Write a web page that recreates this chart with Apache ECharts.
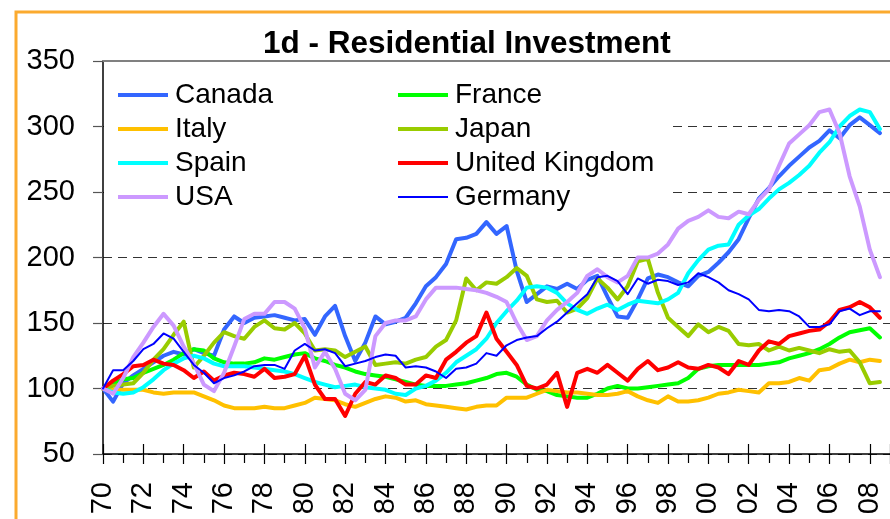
<!DOCTYPE html>
<html>
<head>
<meta charset="utf-8">
<script src="https://cdn.jsdelivr.net/npm/echarts@6/dist/echarts.min.js"></script>
<style>
html,body{margin:0;padding:0;background:#fff;}
#chart{width:890px;height:519px;}
</style>
</head>
<body>
<div id="chart"></div>
<script>
// Half-yearly observations, 1970H1 .. 2008H2 (index 1970 = 100)
const startYear = 1970;
const stepYears = 0.5;
const yTicks = [50, 100, 150, 200, 250, 300, 350];

const canada = [
  100, 90, 104, 110, 115, 120, 125, 128, 126, 130,
  127, 125, 145, 155, 150, 154, 155, 156, 154, 152,
  153, 141, 155, 163, 140, 121, 135, 155, 149, 151,
  154, 165, 178, 185, 195, 214, 215, 218, 227, 218,
  224, 190, 166, 172, 178, 176, 180, 176, 183, 186,
  170, 155, 154, 168, 184, 187, 185, 181, 178, 186,
  189, 196, 204, 214, 230, 245, 253, 262, 270, 277,
  284, 289, 297, 291, 301, 307, 301, 295
];
const france = [
  100, 104, 107, 108, 112, 115, 118, 122, 127, 130,
  129, 123, 120, 119, 119, 120, 123, 122, 124, 126,
  127, 123, 121, 118, 116, 113, 111, 110, 109, 107,
  105, 103, 102, 102, 102, 103, 104, 106, 108, 111,
  112, 109, 103, 99, 98, 95, 94, 93, 93, 96,
  100, 102, 100, 100, 101, 102, 103, 104, 108, 115,
  117, 118, 118, 118, 118, 118, 119, 120, 123, 125,
  127, 130, 134, 139, 143, 144.5, 146, 139
];
const italy = [
  100, 99, 99, 99, 99, 97, 96, 97, 97, 97,
  94, 91, 87, 85, 85, 85, 86, 85, 85, 87,
  89, 93, 92, 91, 88, 86, 89, 92, 94, 93,
  90, 91, 88, 87, 86, 85, 84, 86, 87, 87,
  93, 93, 93, 96, 99, 98, 97, 97, 96, 95,
  95, 96, 98, 94, 91, 89, 94, 90, 90, 91,
  93, 96, 97, 99, 98, 97, 104, 104, 105, 108,
  106, 114, 115, 119, 122, 120, 122, 121
];
const japan = [
  100, 102, 103, 104, 112, 122, 130, 141, 151, 116,
  125, 135, 143, 140, 138, 147, 152, 146, 145, 150,
  142, 129, 130, 129, 124, 128, 132, 118, 119, 120,
  119, 122, 124, 132, 137, 152, 184, 175, 181, 180,
  185, 192, 186, 168, 166, 167, 158, 161, 169, 184,
  177, 168, 178, 197, 199, 173, 154, 147, 140, 149,
  143, 147, 144, 134, 133, 134, 129, 132, 129, 131,
  129, 127, 130, 128, 129, 120, 104, 105
];
const spain = [
  100, 97, 96, 97, 101, 107, 114, 119, 123, 125,
  123, 119, 117, 117, 117, 116, 115, 114, 113, 111,
  108, 105, 103, 101, 102, 103, 101, 100, 99, 96,
  95, 100, 102, 106, 112, 120, 125, 130, 138, 150,
  159, 167, 177, 178, 177, 173, 165, 160, 157, 161,
  164, 160, 164, 167, 166, 165, 168, 173, 188, 198,
  206, 209, 210, 225, 232, 237, 245, 252, 257, 263,
  270, 280, 288, 300, 308, 313, 311, 298
];
const uk = [
  100, 106, 111, 117, 118, 122, 119, 118, 114, 108,
  113, 106, 110, 112, 111, 109, 115, 108, 109, 111,
  125, 103, 92, 92, 79, 96, 105, 103, 110, 108,
  103, 103, 110, 108, 122, 128, 135, 140, 158, 138,
  128, 118, 102, 100, 103, 112, 86, 112, 115, 112,
  118, 112, 106, 115, 121, 114, 116, 120, 116, 115,
  118, 116, 111, 121, 118, 129, 136, 134, 140, 142,
  144, 145, 151, 160, 162, 166, 162, 154
];
const usa = [
  100, 96, 108, 124, 135, 147, 157, 148, 132, 119,
  103, 98, 112, 132, 153, 157, 157, 166, 166, 161,
  146, 116, 128, 115, 96, 91, 99, 140, 150, 152,
  152, 155, 168, 177, 177, 177, 176, 175, 173, 170,
  166, 150, 137, 140, 152, 160, 166, 173, 186, 191,
  185, 181, 186, 200, 200, 203, 210, 222, 228, 231,
  236, 231, 230, 235, 233, 244, 252, 270, 287, 294,
  301, 311, 313, 295, 262, 239, 206, 185
];
const germany = [
  100, 114, 114, 121, 130, 134, 142, 138, 128, 118,
  112, 104, 108, 110, 113, 117, 118, 118, 115, 129,
  134, 129, 130, 127, 117, 119, 121, 124, 126, 125,
  116, 117, 116, 113, 108, 115, 116, 119, 127, 125,
  133, 137, 139, 140, 146, 151, 158, 165, 172, 185,
  186, 182, 172, 184, 180, 183, 182, 179, 181, 188,
  185, 181, 175, 172, 168, 160, 159, 160, 159, 155,
  147, 147, 149, 159, 161, 156, 159, 159
];

const periods = canada.map((_, i) => startYear + i * stepYears);

const seriesDefs = [
  { name: 'Canada', data: canada, color: '#3366FF', width: 4 },
  { name: 'France', data: france, color: '#00FF00', width: 4 },
  { name: 'Italy', data: italy, color: '#FFC000', width: 4 },
  { name: 'Japan', data: japan, color: '#99CC00', width: 4 },
  { name: 'Spain', data: spain, color: '#00FFFF', width: 4 },
  { name: 'United Kingdom', data: uk, color: '#FF0000', width: 4 },
  { name: 'USA', data: usa, color: '#CC99FF', width: 4 },
  { name: 'Germany', data: germany, color: '#0000FF', width: 2 }
];

const FONT = '"Liberation Sans", Arial, sans-serif';
const THICK_ICON = 'path://M0,0 M0,6 M0,1 L50,1 L50,5 L0,5 Z';
const THIN_ICON = 'path://M0,0 M0,6 M0,2 L50,2 L50,4 L0,4 Z';
const chart = echarts.init(document.getElementById('chart'), null, { renderer: 'canvas' });

function legendItems(names) {
  return names.map(n => ({ name: n, icon: n === 'Germany' ? THIN_ICON : THICK_ICON }));
}

const legendCommon = {
  orient: 'vertical',
  padding: 0,
  itemGap: 4,
  itemWidth: 50,
  itemHeight: 6,
  textStyle: { fontFamily: FONT, fontSize: 28, color: '#000', lineHeight: 30, padding: [0, 0, 0, 2] },
  selectedMode: false
};

chart.setOption({
  animation: false,
  backgroundColor: '#fff',
  title: {
    text: '1d - Residential Investment',
    left: 258,
    top: 23,
    textStyle: { fontFamily: FONT, fontSize: 31.5, fontWeight: 'bold', color: '#000' }
  },
  graphic: [
    {
      type: 'rect', z: 100,
      shape: { x: 16, y: 12, width: 1200, height: 1000 },
      style: { fill: 'none', stroke: '#FBAA2E', lineWidth: 3 }
    },
    {
      type: 'rect', z: 1,
      shape: { x: 104, y: 68, width: 567, height: 146 },
      style: { fill: '#fff' }
    }
  ],
  legend: [
    Object.assign({ left: 118, top: 80, data: legendItems(['Canada', 'Italy', 'Spain', 'USA']) }, legendCommon),
    Object.assign({ left: 398, top: 80, data: legendItems(['France', 'Japan', 'United Kingdom', 'Germany']) }, legendCommon)
  ],
  grid: { left: 103, top: 61, right: -7, bottom: 65, containLabel: false },
  xAxis: [
    {
      type: 'value',
      min: 1970,
      max: 2009,
      interval: 2,
      position: 'bottom',
      axisLine: { show: true, onZero: false, lineStyle: { color: '#000', width: 1.5 } },
      axisTick: { show: true, length: 10, lineStyle: { color: '#000', width: 1.2 } },
      minorTick: { show: true, splitNumber: 2, length: 9, lineStyle: { color: '#000', width: 1.2 } },
      splitLine: { show: false },
      axisLabel: {
        rotate: 90,
        margin: 28,
        fontFamily: FONT,
        fontSize: 29,
        color: '#000',
        formatter: v => (v % 2 === 0 && v <= 2008) ? String(v % 100).padStart(2, '0') : ''
      }
    },
    {
      type: 'value',
      min: 1970,
      max: 2009,
      interval: 2,
      position: 'bottom',
      axisLine: { show: false, onZero: false },
      axisTick: { show: true, inside: true, length: 10, lineStyle: { color: '#000', width: 1.2 } },
      axisLabel: { show: false },
      splitLine: { show: false }
    },
    {
      type: 'value',
      min: 1970,
      max: 2009,
      position: 'top',
      axisLine: { show: true, onZero: false, lineStyle: { color: '#808080', width: 2 } },
      axisTick: { show: false },
      axisLabel: { show: false },
      splitLine: { show: false }
    }
  ],
  yAxis: {
    type: 'value',
    min: yTicks[0],
    max: yTicks[yTicks.length - 1],
    interval: 50,
    axisLine: { show: true, lineStyle: { color: '#000', width: 1.5 } },
    axisTick: { show: true, length: 10, lineStyle: { color: '#555', width: 1.2 } },
    splitLine: { show: true, lineStyle: { color: '#333', width: 1.2, type: [9, 6] } },
    axisLabel: { margin: 28, fontFamily: FONT, fontSize: 29, color: '#000' }
  },
  series: seriesDefs.map(s => ({
    name: s.name,
    type: 'line',
    xAxisIndex: 0,
    symbol: 'none',
    showSymbol: false,
    color: s.color,
    lineStyle: { color: s.color, width: s.width, join: 'round', cap: 'round' },
    data: periods.map((t, i) => [t, s.data[i]])
  }))
});
</script>
</body>
</html>
